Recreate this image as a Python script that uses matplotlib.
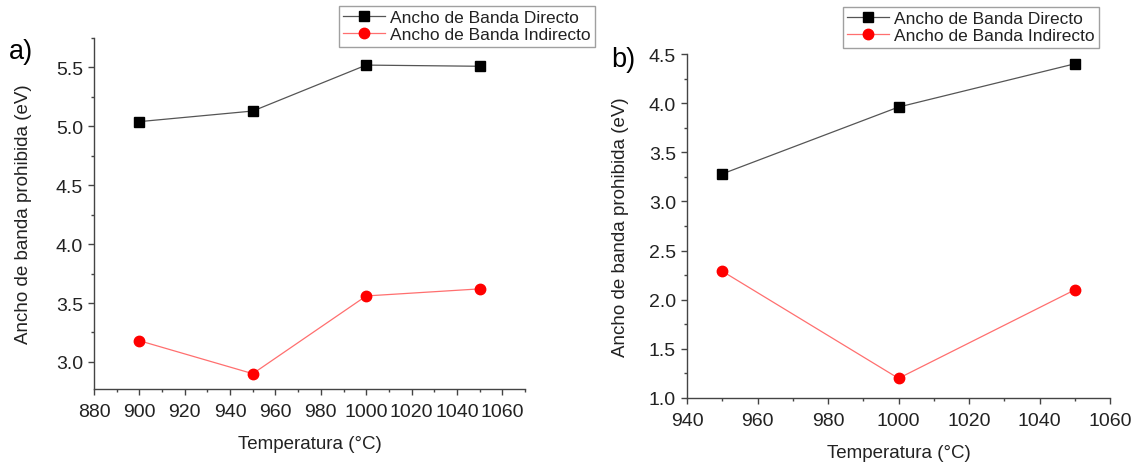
import matplotlib
matplotlib.use("Agg")
import matplotlib.pyplot as plt
from matplotlib.ticker import MultipleLocator

plt.rcParams["font.family"] = ["Liberation Sans", "DejaVu Sans"]
plt.rcParams["axes.unicode_minus"] = False

# Panel a)
temp_a = [900, 950, 1000, 1050]
directo_a = [5.04, 5.13, 5.52, 5.51]
indirecto_a = [3.18, 2.90, 3.56, 3.62]

# Panel b)
temp_b = [950, 1000, 1050]
directo_b = [3.28, 3.96, 4.40]
indirecto_b = [2.29, 1.20, 2.10]

lbl_dir = "Ancho de Banda Directo"
lbl_ind = "Ancho de Banda Indirecto"
xlabel = "Temperatura (°C)"
ylabel = "Ancho de banda prohibida (eV)"

W, H = 1135, 464
TXT = "#222222"
AX = "#444444"


def style_axes(ax, ypad):
    for s in ("top", "right"):
        ax.spines[s].set_visible(False)
    for s in ("left", "bottom"):
        ax.spines[s].set_color(AX)
        ax.spines[s].set_linewidth(1.0)
    ax.tick_params(which="both", direction="out", colors=AX, labelcolor=TXT,
                   labelsize=14, width=1.0)
    ax.tick_params(which="major", length=4.5)
    ax.tick_params(which="minor", length=2.5)
    ax.tick_params(axis="x", which="major", pad=5.5)
    ax.set_xlabel(xlabel, fontsize=13.5, color=TXT, labelpad=11)
    ax.set_ylabel(ylabel, fontsize=13.5, color=TXT, labelpad=ypad)


def draw(ax, x, yd, yi):
    ld, = ax.plot(x, yd, color="#555555", lw=0.9, marker="s", ms=6.5,
                  mfc="black", mec="black", label=lbl_dir)
    li, = ax.plot(x, yi, color="#ff6f6f", lw=0.9, marker="o", ms=7.5,
                  mfc="#ff0000", mec="#ff0000", label=lbl_ind)
    return ld, li


def px_rect(x0, y0, x1, y1):
    return [x0 / W, 1 - y1 / H, (x1 - x0) / W, (y1 - y0) / H]


fig = plt.figure(figsize=(W / 100, H / 100), dpi=100)

ax1 = fig.add_axes(px_rect(94, 39, 525, 390))
h1 = draw(ax1, temp_a, directo_a, indirecto_a)
ax1.set_xlim(880, 1070)
ax1.set_ylim(2.77, 5.75)
ax1.xaxis.set_major_locator(MultipleLocator(20))
ax1.xaxis.set_minor_locator(MultipleLocator(10))
ax1.yaxis.set_major_locator(MultipleLocator(0.5))
ax1.yaxis.set_minor_locator(MultipleLocator(0.25))
ax1.yaxis.set_major_formatter(plt.FormatStrFormatter("%.1f"))
style_axes(ax1, ypad=17)

ax2 = fig.add_axes(px_rect(687, 55, 1110, 399))
h2 = draw(ax2, temp_b, directo_b, indirecto_b)
ax2.set_xlim(940, 1060)
ax2.set_ylim(1.0, 4.5)
ax2.xaxis.set_major_locator(MultipleLocator(20))
ax2.xaxis.set_minor_locator(MultipleLocator(10))
ax2.yaxis.set_major_locator(MultipleLocator(0.5))
ax2.yaxis.set_minor_locator(MultipleLocator(0.25))
ax2.yaxis.set_major_formatter(plt.FormatStrFormatter("%.1f"))
style_axes(ax2, ypad=14)

legend_kw = dict(loc="upper left", fontsize=12.5, frameon=True, fancybox=False,
                 borderaxespad=0, borderpad=0.25, handlelength=2.4,
                 handletextpad=0.3, labelspacing=0.1, labelcolor=TXT)
lg1 = fig.legend(h1, [lbl_dir, lbl_ind], bbox_to_anchor=(339 / W, 1 - 7 / H), **legend_kw)
lg2 = fig.legend(h2, [lbl_dir, lbl_ind], bbox_to_anchor=(843 / W, 1 - 8 / H), **legend_kw)
for lg in (lg1, lg2):
    fr = lg.get_frame()
    fr.set_edgecolor("#888888")
    fr.set_linewidth(1.0)

fig.text(9 / W, 1 - 52 / H, "a)", fontsize=19.5, color="black", va="center")
fig.text(611 / W, 1 - 60 / H, "b)", fontsize=19.5, color="black", va="center")

fig.savefig("out.png", dpi=100)
plt.close(fig)
